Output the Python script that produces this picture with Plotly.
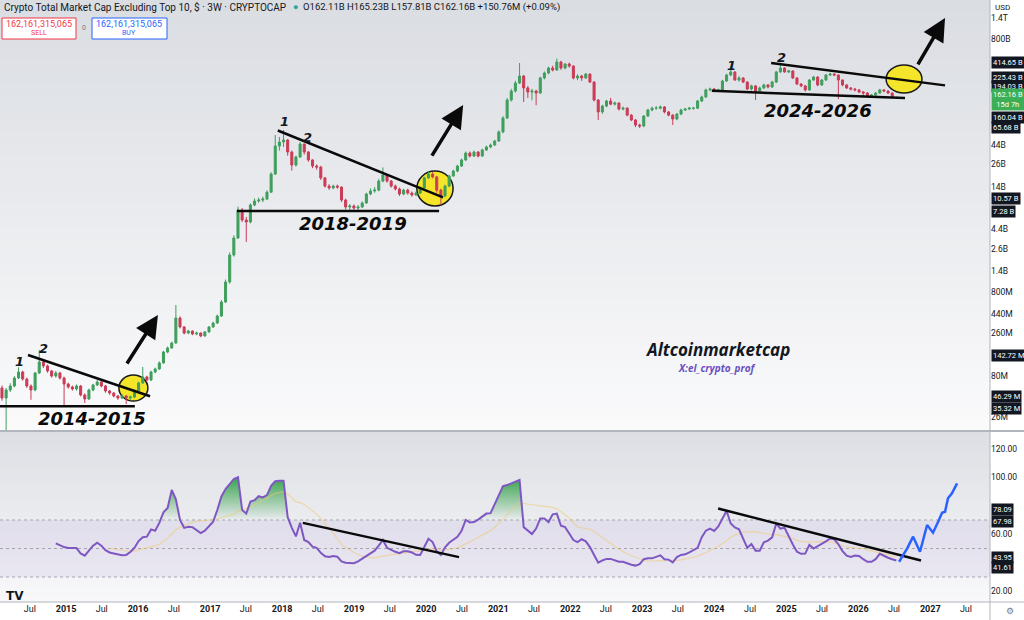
import numpy as np
import pandas as pd
import plotly.graph_objects as go

# Crypto Total Market Cap Excluding Top 10, 3W candles (billions of USD)
candle_start = "2014-02-10"
first_open = 0.058
closes = [
    0.0441, 0.0549, 0.0612, 0.0762, 0.0897, 0.0741, 0.0612, 0.0549, 0.0873, 0.118,
    0.106, 0.0922, 0.0804, 0.0873, 0.0762, 0.0646, 0.0596, 0.0564, 0.0612, 0.0479,
    0.0429, 0.0549, 0.0629, 0.0683, 0.0612, 0.0534, 0.0505, 0.0466, 0.0441, 0.0466,
    0.0441, 0.0453, 0.0534, 0.0665, 0.0783, 0.0721, 0.0897, 0.0974, 0.115, 0.155,
    0.173, 0.198, 0.392, 0.307, 0.260, 0.275, 0.253, 0.260, 0.240, 0.268,
    0.307, 0.342, 0.414, 0.607, 1.05, 2.19, 3.49, 7.49, 5.70, 5.40,
    8.59, 9.58, 9.84, 10.1, 12.2, 20.0, 43.0, 48.0, 50.7, 36.5,
    25.6, 31.9, 45.4, 36.5, 29.4, 24.9, 24.2, 18.0, 14.4, 13.7,
    14.4, 14.0, 9.84, 8.13, 8.36, 7.91, 8.13, 9.07, 11.6, 12.6,
    12.9, 16.5, 19.5, 16.5, 14.4, 13.3, 11.6, 12.9, 11.9, 11.3,
    11.9, 13.7, 18.0, 20.0, 18.5, 12.9, 11.0, 14.4, 19.0, 21.7,
    24.9, 29.4, 35.5, 32.7, 36.5, 32.7, 38.6, 41.9, 44.2, 49.3,
    63.1, 92.4, 151, 193, 240, 291, 210, 188, 193, 183,
    276, 316, 362, 343, 427, 362, 404, 382, 276, 291,
    276, 307, 247, 151, 109, 128, 147, 135, 139, 118,
    121, 100, 87.5, 76.3, 74.3, 97.6, 115, 121, 121, 125,
    109, 100, 89.9, 103, 115, 118, 121, 121, 147, 164,
    199, 204, 193, 199, 254, 299, 325, 261, 276, 247,
    204, 222, 193, 210, 228, 216, 247, 325, 362, 325,
    334, 276, 234, 222, 199, 261, 283, 228, 261, 299,
    307, 299, 261, 228, 210, 204, 199, 188, 183, 169,
    173, 183, 199, 193, 183, 162.11, 162.16,
]
highs = [
    0.062, 0.058, 0.066, 0.080, 0.102, 0.093, 0.077, 0.064, 0.090, 0.164,
    0.125, 0.110, 0.095, 0.092, 0.090, 0.079, 0.067, 0.062, 0.064, 0.063,
    0.050, 0.057, 0.065, 0.072, 0.070, 0.063, 0.055, 0.052, 0.048, 0.049,
    0.048, 0.047, 0.056, 0.069, 0.103, 0.081, 0.093, 0.101, 0.120, 0.160,
    0.180, 0.205, 0.559, 0.410, 0.315, 0.285, 0.280, 0.270, 0.265, 0.275,
    0.315, 0.355, 0.430, 0.640, 1.12, 2.35, 3.75, 8.20, 7.90, 6.20,
    9.00, 10.3, 10.5, 10.8, 12.8, 21.0, 58.0, 55.0, 66.6, 52.0,
    38.0, 33.0, 48.0, 46.0, 37.5, 30.0, 26.0, 25.0, 18.5, 15.2,
    15.0, 15.0, 14.3, 10.2, 8.80, 8.70, 8.60, 9.50, 12.0, 13.5,
    14.0, 17.5, 24.0, 20.0, 17.0, 15.0, 13.8, 13.4, 13.4, 12.4,
    12.4, 14.2, 18.6, 21.5, 21.0, 19.0, 13.4, 15.0, 19.6, 22.5,
    25.8, 30.5, 37.0, 37.0, 38.0, 37.5, 40.0, 43.5, 46.0, 51.0,
    66.0, 97.0, 160, 205, 255, 415, 300, 222, 205, 200,
    285, 330, 375, 385, 470, 440, 415, 420, 390, 305,
    300, 315, 312, 252, 155, 133, 152, 160, 145, 142,
    126, 124, 103, 90, 79, 100, 119, 126, 128, 130,
    128, 112, 103, 106, 119, 122, 125, 125, 152, 170,
    206, 212, 210, 206, 262, 310, 382, 330, 290, 282,
    252, 230, 228, 218, 236, 234, 255, 335, 404, 370,
    345, 340, 282, 240, 228, 268, 292, 290, 268, 308,
    318, 315, 305, 265, 232, 215, 210, 204, 193, 188,
    178, 188, 205, 204, 198, 186, 165.23,
]
lows = [
    0.041, 0.015, 0.052, 0.059, 0.074, 0.071, 0.058, 0.042, 0.053, 0.085,
    0.100, 0.088, 0.077, 0.077, 0.073, 0.036, 0.057, 0.054, 0.054, 0.046,
    0.0385, 0.042, 0.053, 0.061, 0.059, 0.051, 0.048, 0.045, 0.042, 0.043,
    0.0374, 0.042, 0.044, 0.052, 0.065, 0.069, 0.070, 0.087, 0.095, 0.113,
    0.150, 0.170, 0.195, 0.295, 0.250, 0.252, 0.245, 0.245, 0.232, 0.236,
    0.262, 0.300, 0.335, 0.405, 0.59, 1.00, 2.10, 3.40, 5.40, 3.13,
    5.20, 8.30, 9.10, 9.30, 9.80, 12.0, 19.5, 38.0, 42.0, 33.0,
    22.0, 24.5, 31.0, 34.0, 28.0, 23.5, 22.5, 17.0, 13.8, 13.0,
    13.2, 13.4, 9.30, 7.60, 7.40, 7.09, 7.50, 7.90, 8.90, 11.2,
    12.0, 12.5, 16.0, 15.8, 13.8, 12.8, 11.0, 11.2, 11.4, 10.8,
    11.0, 11.6, 13.4, 17.5, 17.8, 12.0, 8.59, 10.6, 14.0, 18.5,
    21.0, 24.2, 28.5, 31.5, 31.8, 31.5, 32.0, 37.5, 40.5, 43.0,
    48.0, 61.0, 90.0, 145, 185, 235, 143, 160, 150, 131,
    178, 265, 305, 330, 335, 345, 350, 365, 265, 260,
    255, 268, 240, 145, 87.5, 104, 124, 131, 130, 114,
    114, 97, 85, 72, 70.4, 72, 95, 111, 116, 117,
    105, 97, 76.3, 87, 100, 112, 115, 116, 118, 143,
    160, 192, 188, 188, 195, 248, 290, 255, 250, 240,
    198, 196, 151, 186, 204, 208, 210, 240, 318, 318,
    315, 268, 228, 215, 190, 195, 255, 220, 222, 255,
    290, 290, 155, 220, 204, 196, 192, 182, 165, 164,
    165, 169, 178, 188, 178, 158, 157.81,
]

# RSI(14), first value on candle 13
rsi_start = 13
rsi = [
    53.6, 52.0, 51.0, 50.4, 50.6, 50.3, 46.5, 45.0, 48.5, 52.0,
    54.1, 52.0, 48.8, 47.2, 46.5, 45.8, 45.2, 45.5, 47.5, 50.5,
    55.2, 57.9, 58.3, 63.4, 62.5, 68.0, 75.4, 78.5, 91.1, 84.5,
    70.0, 64.5, 65.3, 65.0, 63.2, 60.8, 62.5, 65.8, 68.8, 77.0,
    86.5, 91.7, 95.2, 98.8, 100.0, 77.0, 74.5, 82.9, 83.9, 86.7,
    85.9, 87.5, 94.0, 97.2, 97.6, 97.6, 72.0, 64.5, 58.5, 68.1,
    56.0, 54.5, 51.3, 50.5, 47.0, 44.5, 44.0, 44.7, 44.2, 41.0,
    40.0, 40.0, 39.7, 41.0, 42.8, 44.8, 46.5, 48.5, 52.0, 56.0,
    50.5, 49.0, 47.7, 46.7, 48.0, 48.0, 47.2, 45.6, 45.4, 51.0,
    56.8, 54.5, 48.0, 45.5, 50.8, 54.0, 56.2, 58.2, 62.5, 70.0,
    68.3, 68.6, 70.3, 72.2, 74.5, 74.8, 81.0, 88.0, 93.8, 94.5,
    95.6, 97.2, 98.1, 65.0, 62.5, 60.2, 64.0, 71.0, 71.0, 68.5,
    74.0, 74.5, 66.0, 65.0, 60.5, 55.9, 54.5, 56.5, 55.0, 51.0,
    45.5, 40.0, 41.6, 42.7, 42.7, 41.8, 40.7, 40.7, 39.4, 38.6,
    38.0, 39.0, 42.5, 43.1, 43.1, 44.2, 45.2, 42.4, 42.2, 40.3,
    44.0, 45.5, 45.9, 47.3, 49.2, 50.5, 58.0, 62.5, 64.0, 62.3,
    65.5, 71.5, 76.5, 67.5, 64.8, 63.5, 57.5, 50.5, 53.2, 48.5,
    48.5, 54.3, 55.5, 57.8, 67.5, 64.0, 64.5, 58.5, 52.8, 47.8,
    46.3, 46.4, 52.5, 50.0, 51.5, 53.2, 55.0, 57.0, 56.5, 53.0,
    48.2, 45.0, 44.0, 45.0, 44.8, 42.5, 40.7, 40.7, 42.5, 46.3,
    44.8, 43.5, 42.5, 41.6,
]

# hand drawings on the price pane (dates / billions USD)
trend_dates = [["2014-06-22", "2016-03-02"], ["2017-12-10", "2020-03-27"], ["2024-10-16", "2027-03-17"]]
trend_values = [[0.14272, 0.04629], [65.68, 10.57], [414.65, 225.43]]
support_dates = [["2014-01-31", "2015-12-16"], ["2017-05-17", "2020-03-07"], ["2023-12-20", "2026-08-26"]]
support_values = [[0.03532, 0.03532], [7.28, 7.28], [194.03, 160.04]]
circle_dates = [["2015-09-26", "2016-02-20"], ["2019-11-15", "2020-05-17"], ["2026-05-22", "2026-11-20"]]
circle_values = [[0.0406, 0.0826], [8.36, 21.7], [183, 393.5]]
arrow_dates = [["2015-11-01", "2016-04-11"], ["2020-01-26", "2020-07-07"], ["2026-10-26", "2027-03-17"]]
arrow_values = [[0.1086, 0.4256], [31.8, 131.8], [382.8, 1419]]
peak_text = ["1", "2", "1", "2", "1", "2"]
peak_dates = ["2014-05-12", "2014-09-10", "2018-01-15", "2018-05-12", "2024-03-27", "2024-12-10"]
peak_values = [0.1189, 0.1726, 85.1, 55.0, 393, 489]
period_text = ["2014-2015", "2018-2019", "2024-2026"]
period_dates = ["2015-05-12", "2018-12-27", "2025-06-11"]
period_values = [0.0255, 5.25, 115]

# hand drawings on the RSI pane
rsi_trend_dates = [["2018-04-16", "2020-06-16"], ["2024-01-21", "2026-11-15"]]
rsi_trend_values = [[67.98, 43.95], [78.09, 41.61]]
projection_dates = ["2026-07-27", "2026-09-06", "2026-10-06", "2026-11-10", "2026-12-16", "2027-01-15",
                    "2027-02-10", "2027-03-02", "2027-03-17", "2027-04-01", "2027-04-21", "2027-05-17"]
projection_values = [40.7, 50.1, 58.3, 47.7, 66.5, 61.1, 68.8, 75.1, 75.8, 85.2, 88.7, 95.7]

price_ticks = [1400, 800, 44, 26, 14, 4.4, 2.6, 1.4, 0.8, 0.44, 0.26, 0.08, 0.026]
price_tick_text = ["1.4T", "800B", "44B", "26B", "14B", "4.4B", "2.6B", "1.4B",
                   "800M", "440M", "260M", "80M", "26M"]
rsi_ticks = [20, 60, 100, 120]
time_ticks = []
time_tick_text = []
for yr in range(2014, 2028):
    if yr > 2014:
        time_ticks.append(f"{yr}-01-01")
        time_tick_text.append(f"<b>{yr}</b>")
    time_ticks.append(f"{yr}-07-01")
    time_tick_text.append("Jul")

# ---------------- layout helpers ----------------
PLOT_R = 990
PLOT_B = 602


def px(x):
    return x / PLOT_R


def py(y):
    return (PLOT_B - y) / PLOT_B


GREEN = "#3f9f5d"
RED = "#cc3b57"
INK = "#131722"

dates = pd.date_range(candle_start, periods=len(closes), freq="21D")
opens = [first_open] + closes[:-1]
rsi_dates = dates[rsi_start:]
rsi_ma = pd.Series(rsi).rolling(14).mean()

fig = go.Figure()

fig.add_trace(go.Candlestick(
    x=dates, open=opens, high=highs, low=lows, close=closes,
    xaxis="x", yaxis="y", whiskerwidth=0,
    increasing=dict(line=dict(color=GREEN, width=1), fillcolor=GREEN),
    decreasing=dict(line=dict(color=RED, width=1), fillcolor=RED),
    hoverinfo="skip"))

for d, v in zip(trend_dates + support_dates, trend_values + support_values):
    fig.add_trace(go.Scatter(x=d, y=v, mode="lines", xaxis="x", yaxis="y",
                             line=dict(color="#0a0a0a", width=2.5), hoverinfo="skip"))

# RSI pane
fig.add_trace(go.Scatter(x=rsi_dates, y=[70] * len(rsi), xaxis="x2", yaxis="y2", mode="lines",
                         line=dict(width=0), hoverinfo="skip"))
fig.add_trace(go.Scatter(x=rsi_dates, y=np.maximum(rsi, 70), xaxis="x2", yaxis="y2", mode="lines",
                         line=dict(width=0), fill="tonexty",
                         fillgradient=dict(type="vertical", start=70, stop=100,
                                           colorscale=[[0, "rgba(46,160,67,0)"], [1, "rgba(46,160,67,0.95)"]]),
                         hoverinfo="skip"))
fig.add_trace(go.Scatter(x=rsi_dates, y=rsi_ma, xaxis="x2", yaxis="y2", mode="lines",
                         line=dict(color="rgba(240,200,110,0.55)", width=1.2), hoverinfo="skip"))
fig.add_trace(go.Scatter(x=rsi_dates, y=rsi, xaxis="x2", yaxis="y2", mode="lines",
                         line=dict(color="#7e57c2", width=2), hoverinfo="skip"))
for d, v in zip(rsi_trend_dates, rsi_trend_values):
    fig.add_trace(go.Scatter(x=d, y=v, mode="lines", xaxis="x2", yaxis="y2",
                             line=dict(color="#0a0a0a", width=2.5), hoverinfo="skip"))
fig.add_trace(go.Scatter(x=projection_dates, y=projection_values, xaxis="x2", yaxis="y2", mode="lines",
                         line=dict(color="#2962ff", width=2.5), hoverinfo="skip"))

# ---------------- shapes ----------------
shapes = []


def gradient(top, bot, c_top, c_bot, steps=36):
    for k in range(steps):
        t = k / (steps - 1)
        c = tuple(round(a + (b - a) * t) for a, b in zip(c_top, c_bot))
        y0 = top + (bot - top) * k / steps
        y1 = top + (bot - top) * (k + 1) / steps
        shapes.append(dict(type="rect", xref="paper", yref="paper", x0=0, x1=1,
                           y0=py(y1) - 0.001, y1=py(y0), fillcolor=f"rgb{c}",
                           line=dict(width=0), layer="below"))


gradient(0, 430, (218, 221, 226), (250, 250, 251))
gradient(432, 602, (221, 223, 228), (248, 248, 250))

shapes.append(dict(type="rect", xref="paper", yref="y2", x0=0, x1=1, y0=30, y1=70,
                   fillcolor="rgba(126,87,194,0.09)", line=dict(width=0), layer="below"))
for lvl in (70, 50, 30):
    shapes.append(dict(type="line", xref="paper", yref="y2", x0=0, x1=1, y0=lvl, y1=lvl,
                       line=dict(color="#a3a6af", width=1, dash="dot"), layer="below"))

for d, v in zip(circle_dates, circle_values):
    shapes.append(dict(type="circle", xref="x", yref="y", x0=d[0], x1=d[1], y0=v[0], y1=v[1],
                       fillcolor="#f4e52a", line=dict(color="#1a1a1a", width=1.5), layer="below"))

# pane separators and axis borders
shapes.append(dict(type="line", xref="paper", yref="paper", x0=0, x1=1024 / PLOT_R, y0=py(431), y1=py(431),
                   line=dict(color="#b2b5be", width=2)))
shapes.append(dict(type="line", xref="paper", yref="paper", x0=0, x1=1024 / PLOT_R, y0=py(602), y1=py(602),
                   line=dict(color="#b2b5be", width=1)))
shapes.append(dict(type="line", xref="paper", yref="paper", x0=1, x1=1, y0=py(620), y1=py(0),
                   line=dict(color="#b2b5be", width=1)))

# SELL / BUY boxes
shapes.append(dict(type="rect", xref="paper", yref="paper", x0=px(2), x1=px(76), y0=py(39), y1=py(18),
                   fillcolor="white", line=dict(color="#f23645", width=1)))
shapes.append(dict(type="rect", xref="paper", yref="paper", x0=px(92), x1=px(167), y0=py(39), y1=py(18),
                   fillcolor="white", line=dict(color="#2962ff", width=1)))

# ---------------- annotations ----------------
ann = []


def label(x, y, text, size=9, color=INK, anchor="left", family="Roboto", **kw):
    ann.append(dict(xref="paper", yref="paper", x=px(x), y=py(y), text=text, showarrow=False,
                    xanchor=anchor, yanchor="middle", font=dict(size=size, color=color, family=family), **kw))


label(2, 7, "Crypto Total Market Cap Excluding Top 10, $ · 3W · CRYPTOCAP", size=10)
label(291, 7, "●", size=9, color="#26a69a")
label(301, 7, "O162.11B H165.23B L157.81B C162.16B +150.76M (+0.09%)", size=9.5)
label(39, 24, "162,161,315,065", size=9, color="#f23645", anchor="center")
label(39, 33, "SELL", size=7, color="#f23645", anchor="center")
label(84, 28, "0", size=7, color="#787b86", anchor="center")
label(129, 24, "162,161,315,065", size=9, color="#2962ff", anchor="center")
label(129, 33, "BUY", size=7, color="#2962ff", anchor="center")

label(717, 349, "<b><i>Altcoinmarketcap</i></b>", size=17, anchor="center", family="Open Sans")
label(717, 368, "<b><i>X:el_crypto_prof</i></b>", size=10, color="#6a4fc0", anchor="center", family="Open Sans")

label(993, 7, "USD", size=8)
label(4, 596, "<b>TV</b>", size=12, family="DejaVu Sans")
label(1010, 611, "⚙", size=9, color="#787b86", anchor="center")

for t, d, v in zip(peak_text, peak_dates, peak_values):
    ann.append(dict(xref="x", yref="y", x=d, y=np.log10(v), text=f"<b><i>{t}</i></b>", showarrow=False,
                    font=dict(size=13, color=INK, family="DejaVu Sans")))
for t, d, v in zip(period_text, period_dates, period_values):
    ann.append(dict(xref="x", yref="y", x=d, y=np.log10(v), text=f"<b><i>{t}</i></b>", showarrow=False,
                    font=dict(size=18, color="#0a0a0a", family="DejaVu Sans")))
for d, v in zip(arrow_dates, arrow_values):
    ann.append(dict(xref="x", yref="y", axref="x", ayref="y", x=d[1], y=np.log10(v[1]),
                    ax=d[0], ay=np.log10(v[0]), text="", showarrow=True, arrowhead=2,
                    arrowsize=1.3, arrowwidth=3.5, arrowcolor="#0a0a0a"))

# value flags on the scales
flags = [("414.65 B", 62), ("225.43 B", 77), ("194.03 B", 86), ("160.04 B", 117), ("65.68 B", 128),
         ("10.57 B", 198), ("7.28 B", 212), ("142.72 M", 355), ("46.29 M", 397), ("35.32 M", 408),
         ("78.09", 509), ("67.98", 521), ("43.95", 557), ("41.61", 567)]
for text, y in flags:
    label(991, y, text, size=7.5, color="white", bgcolor="#131722", borderpad=1)
label(991, 100, "162.16 B<br>15d 7h", size=7.5, color="white", bgcolor="#3cae55", borderpad=1)

fig.update_layout(
    width=1024, height=620,
    margin=dict(l=0, r=34, t=0, b=18),
    paper_bgcolor="white", plot_bgcolor="white",
    showlegend=False, hovermode=False,
    shapes=shapes, annotations=ann,
    xaxis=dict(domain=[0, 1], anchor="y", range=["2014-01-31", "2027-10-31"], showticklabels=False,
               showgrid=False, zeroline=False, rangeslider=dict(visible=False)),
    xaxis2=dict(domain=[0, 1], anchor="y2", range=["2014-01-31", "2027-10-31"], showgrid=False,
                zeroline=False, tickvals=time_ticks, ticktext=time_tick_text, ticks="",
                tickfont=dict(size=9, color=INK, family="Roboto")),
    yaxis=dict(domain=[py(430), 1], anchor="x", type="log", range=[-1.735, 3.3656], side="right",
               showgrid=False, zeroline=False, tickvals=price_ticks, ticktext=price_tick_text, ticks="",
               tickfont=dict(size=8.5, color=INK, family="Roboto")),
    yaxis2=dict(domain=[0, py(432)], anchor="x2", range=[12.46, 131.75], side="right",
                showgrid=False, zeroline=False, tickvals=rsi_ticks,
                ticktext=[f"{v:.2f}" for v in rsi_ticks], ticks="",
                tickfont=dict(size=8.5, color=INK, family="Roboto")),
)

fig.write_html("out.html", config={"displayModeBar": False},
               post_script="document.body.style.margin = '0px';")
